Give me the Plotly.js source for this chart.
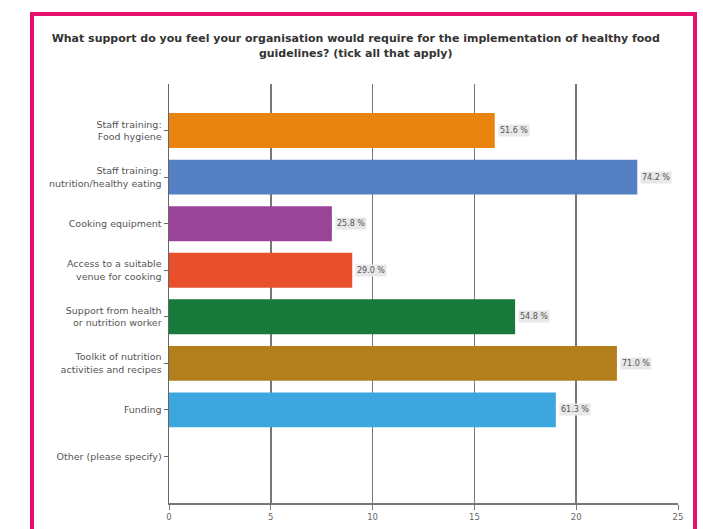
<!DOCTYPE html>
<html>
<head>
<meta charset="utf-8">
<script src="https://cdn.plot.ly/plotly-3.0.1.min.js"></script>
<style>html,body{margin:0;padding:0;background:#fff;}#chart{width:703px;height:529px;}</style>
</head>
<body>
<div id="chart"></div>
<script>
const categories = [
  "Staff training:<br>Food hygiene",
  "Staff training:<br>nutrition/healthy eating",
  "Cooking equipment",
  "Access to a suitable<br>venue for cooking",
  "Support from health<br>or nutrition worker",
  "Toolkit of nutrition<br>activities and recipes",
  "Funding",
  "Other (please specify)"
];
const counts = [16, 23, 8, 9, 17, 22, 19, 0];
const percents = ["51.6", "74.2", "25.8", "29.0", "54.8", "71.0", "61.3", null];
const barColors = ["#e8830f", "#5580c4", "#9a4499", "#e8502c", "#17793a", "#b37e1c", "#3ca7df", "#cccccc"];
const xTicks = [0, 5, 10, 15, 20, 25];

const trace = {
  type: "bar",
  orientation: "h",
  x: counts,
  y: categories,
  width: 0.75,
  marker: {color: barColors, line: {width: 0}},
  hoverinfo: "none"
};

const annotations = [];
for (let i = 0; i < categories.length; i++) {
  if (percents[i] === null) continue;
  annotations.push({
    x: counts[i], y: categories[i], xref: "x", yref: "y",
    text: percents[i] + " %", showarrow: false,
    xanchor: "left", xshift: 3,
    bgcolor: "#e8e8e8", borderpad: 1,
    font: {family: "DejaVu Sans, sans-serif", size: 8, color: "#555"}
  });
}

const layout = {
  width: 703, height: 529,
  margin: {l: 169, r: 25, t: 84, b: 26},
  paper_bgcolor: "#ffffff", plot_bgcolor: "#ffffff",
  showlegend: false,
  title: {
    text: "<b>What support do you feel your organisation would require for the implementation of healthy food<br>guidelines? (tick all that apply)</b>",
    x: 0.506, xanchor: "center", y: 0.92, yanchor: "top",
    font: {family: "DejaVu Sans, sans-serif", size: 11, color: "#333"}
  },
  xaxis: {
    range: [0, 25], tickvals: xTicks, ticktext: xTicks.map(String),
    showgrid: true, gridcolor: "#777", gridwidth: 1.5,
    showline: true, linecolor: "#777", linewidth: 1.5,
    ticks: "outside", ticklen: 5, tickcolor: "#777",
    zeroline: false,
    tickfont: {family: "DejaVu Sans, sans-serif", size: 8.5, color: "#666"}
  },
  yaxis: {
    type: "category", range: [8, -1],
    showgrid: false, showline: true, linecolor: "#666", linewidth: 1.5,
    ticks: "outside", ticklen: 4, tickcolor: "#666",
    tickfont: {family: "DejaVu Sans, sans-serif", size: 9.5, color: "#555"}
  },
  annotations: annotations,
  shapes: [{
    type: "rect", xref: "paper", yref: "paper",
    x0: -0.2692, x1: 1.0334, y0: -0.0883, y1: 1.1671,
    line: {color: "#e5106e", width: 4}, fillcolor: "rgba(0,0,0,0)", layer: "above"
  }]
};

Plotly.newPlot("chart", [trace], layout, {displayModeBar: false, staticPlot: true});
</script>
</body>
</html>
